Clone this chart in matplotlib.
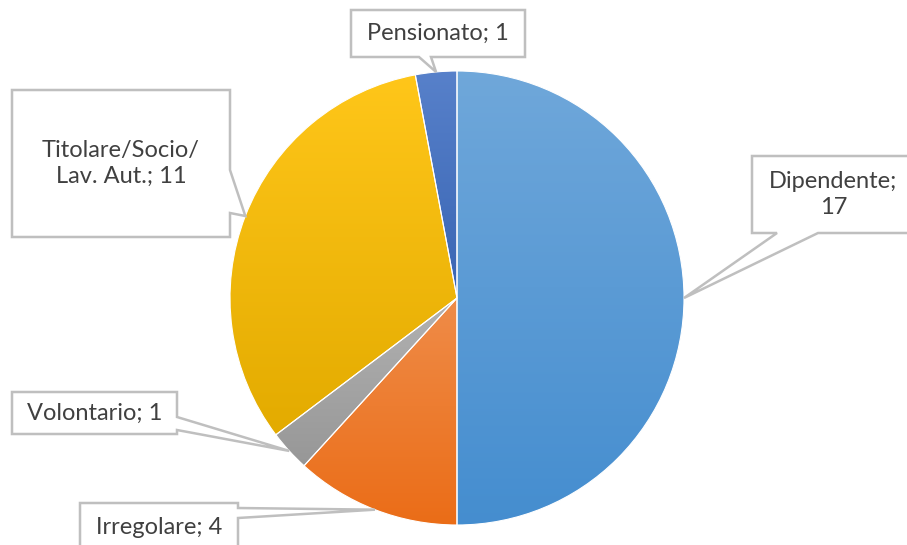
import colorsys
import numpy as np
import matplotlib
matplotlib.use("Agg")
import matplotlib.pyplot as plt
from matplotlib.patches import Polygon
from matplotlib.colors import to_rgb

categorie = ["Dipendente", "Irregolare", "Volontario", "Titolare/Socio/Lav. Aut.", "Pensionato"]
valori = [17, 4, 1, 11, 1]
colori = ["#5B9BD5", "#ED7D31", "#A5A5A5", "#FFC000", "#4472C4"]

# testo delle etichette (con gli a capo come nell'originale)
etichette = ["Dipendente;\n17", "Irregolare; 4", "Volontario; 1",
             "Titolare/Socio/\nLav. Aut.; 11", "Pensionato; 1"]

W, H = 907, 545
# riquadri delle etichette in pixel (x0, y0, x1, y1), y verso il basso,
# lato da cui parte il richiamo e le due basi del richiamo
box = [
    ((752, 156, 915, 233), "bottom", (777, 818)),
    ((80, 503, 238, 551), "right", (508, 518)),
    ((12, 392, 177, 434), "right", (417, 430)),
    ((12, 90, 230, 237), "right", (170, 213)),
    ((351, 10, 525, 57), "bottom", (419, 431)),
]


def luce(c, dl):
    h, l, s = colorsys.rgb_to_hls(*to_rgb(c))
    return np.array(colorsys.hls_to_rgb(h, min(1, max(0, l + dl)), s))


fig = plt.figure(figsize=(W / 100, H / 100), dpi=100)
ax = fig.add_axes([0, 0, 1, 1])

cx, cy, r = 457, H - 298, 227
wedges, _ = ax.pie(valori, colors=colori, startangle=90, counterclock=False,
                   center=(cx, cy), radius=r, frame=True,
                   wedgeprops=dict(linewidth=0.8, edgecolor="white"))

# sfumatura verticale per ogni spicchio (chiaro in alto, scuro in basso)
for w, c in zip(wedges, colori):
    top = luce(c, 0.05)
    bot = luce(c, -0.055)
    ext = w.get_path().get_extents(w.get_patch_transform())
    t = np.linspace(0, 1, 256)[:, None, None]
    grad = top * (1 - t) + bot * t
    grad = np.repeat(grad, 2, axis=1)
    im = ax.imshow(grad, extent=(ext.x0, ext.x1, ext.y0, ext.y1),
                   origin="upper", aspect="auto", zorder=1.5)
    im.set_clip_path(w)
    w.set_facecolor("none")
    w.set_zorder(2)

ax.set_xlim(0, W)
ax.set_ylim(0, H)
ax.axis("off")

# etichette con richiamo
for w, testo, (b, lato, basi) in zip(wedges, etichette, box):
    mid = np.deg2rad((w.theta1 + w.theta2) / 2)
    tx, ty = cx + r * np.cos(mid), cy + r * np.sin(mid)
    x0, y0, x1, y1 = b
    y0, y1 = H - y0, H - y1
    if lato == "bottom":
        pts = [(x0, y0), (x1, y0), (x1, y1), (basi[1], y1), (tx, ty),
               (basi[0], y1), (x0, y1)]
    else:
        pts = [(x0, y0), (x1, y0), (x1, H - basi[0]), (tx, ty),
               (x1, H - basi[1]), (x1, y1), (x0, y1)]
    ax.add_patch(Polygon(pts, closed=True, facecolor="white",
                         edgecolor="#BFBFBF", linewidth=1.8, zorder=3))
    ax.text((x0 + x1) / 2, (y0 + y1) / 2, testo, ha="center", va="center",
            fontsize=17, family="Lato", color="#404040", zorder=4,
            linespacing=1.25)

fig.savefig("out.png", dpi=100)
